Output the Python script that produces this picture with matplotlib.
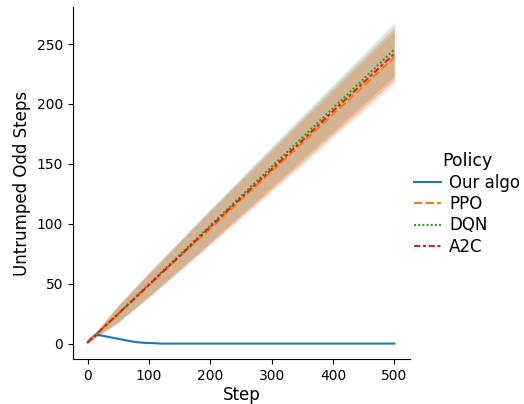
import matplotlib
matplotlib.use("Agg")
import matplotlib.pyplot as plt
import seaborn as sns

# values (every 50 steps, plus early detail)
steps = [0, 50, 100, 150, 200, 250, 300, 350, 400, 450, 500]

ppo_mean = [1, 24.5, 48.5, 72.5, 96, 120, 143.5, 167.5, 191.5, 215, 239]
dqn_mean = [1, 25, 49.5, 74, 98.5, 123, 147.5, 172, 196.5, 221, 245.5]
a2c_mean = [1, 24.8, 49, 73, 97.5, 121.5, 145.5, 169.5, 194, 218, 242]
half_width = [0.5, 7, 10, 12, 14, 15.5, 17, 18.5, 19.7, 21, 22]

algo_steps = [0, 5, 10, 15, 20, 30, 40, 50, 60, 70, 80, 90, 100, 110, 120, 200, 300, 400, 500]
algo_mean = [1, 4, 6, 7.3, 7, 6, 5, 4, 3, 2, 1.2, 0.7, 0.5, 0.3, 0, 0, 0, 0, 0]
algo_half = [0.3, 0.6, 0.8, 0.8, 0.8, 0.7, 0.7, 0.6, 0.5, 0.5, 0.4, 0.3, 0.3, 0.2, 0, 0, 0, 0, 0]

fig = plt.figure(figsize=(5.24, 4.04), dpi=100)
ax = fig.add_axes([0.139, 0.111, 0.643, 0.872])

pal = sns.color_palette("tab10")

lo = [m - h for m, h in zip(algo_mean, algo_half)]
hi = [m + h for m, h in zip(algo_mean, algo_half)]
ax.fill_between(algo_steps, lo, hi, color=pal[0], alpha=0.2, lw=0)
ax.plot(algo_steps, algo_mean, color=pal[0], lw=1.5, label="Our algo")

series = [
    ("PPO", ppo_mean, pal[1], (4, 1.5)),
    ("DQN", dqn_mean, pal[2], (1, 1)),
    ("A2C", a2c_mean, pal[3], (3, 1.25, 1.5, 1.25)),
]
for name, mean, col, dash in series:
    lo = [m - h for m, h in zip(mean, half_width)]
    hi = [m + h for m, h in zip(mean, half_width)]
    ax.fill_between(steps, lo, hi, color=col, alpha=0.2, lw=0)
    ax.plot(steps, mean, color=col, lw=1.5, dashes=dash, label=name)

ax.set_xlabel("Step", fontsize=12, labelpad=2)
ax.set_ylabel("Untrumped Odd Steps", fontsize=12)
ax.set_xticks([0, 100, 200, 300, 400, 500])
ax.set_yticks([0, 50, 100, 150, 200, 250])
ax.tick_params(labelsize=10)
ax.set_xlim(-24, 525)
ax.set_ylim(-13, 281)
sns.despine(ax=ax)

handles, labels = ax.get_legend_handles_labels()
fig.legend(handles, labels, title="Policy", loc="center left",
           bbox_to_anchor=(0.762, 0.495), frameon=False,
           fontsize=12, title_fontsize=12.5, handlelength=1.6,
           handletextpad=0.5, labelspacing=0.2)

fig.savefig("out.png", dpi=100)
